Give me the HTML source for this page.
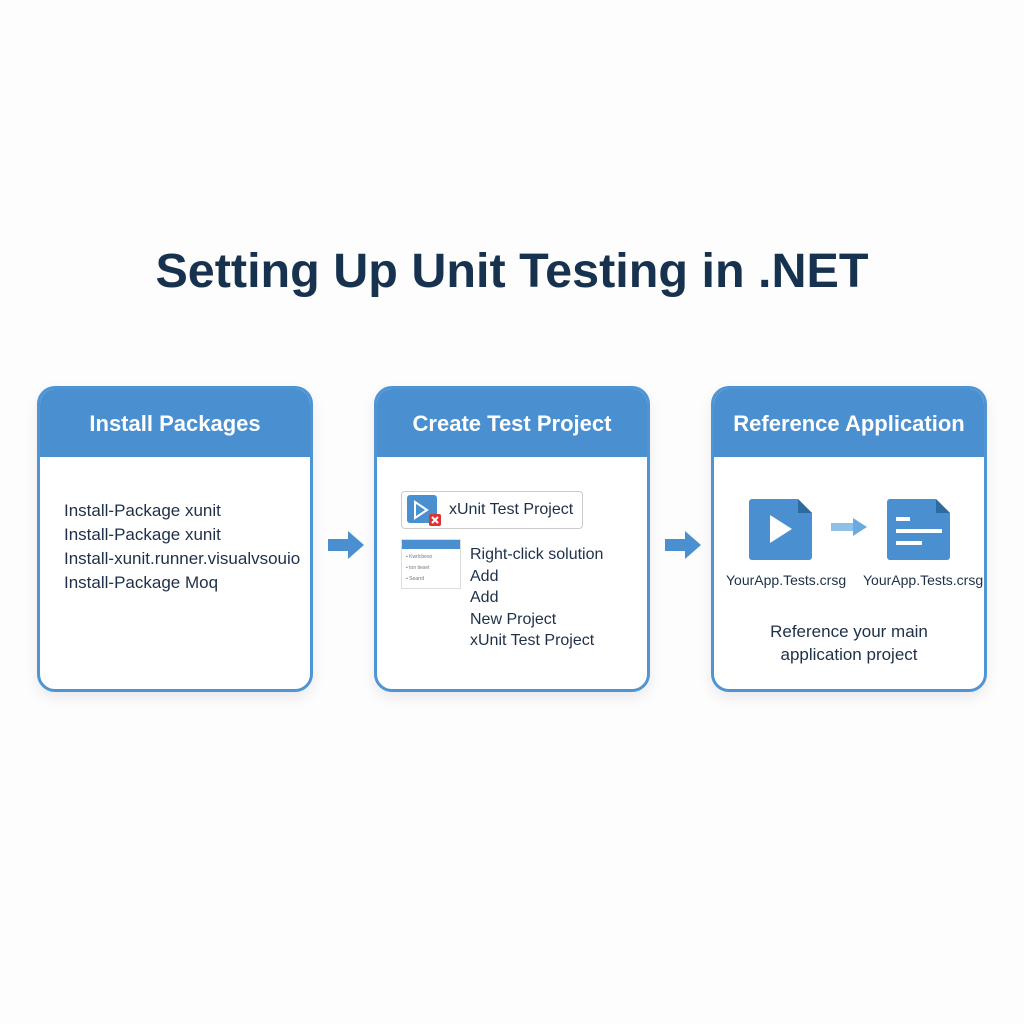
<!DOCTYPE html>
<html><head><style>
body{margin:0;width:1024px;height:1024px;background:#fdfdfd;font-family:"Liberation Sans",sans-serif;position:relative;overflow:hidden}
.t{position:absolute;left:0;width:1024px;top:243px;text-align:center;font-size:48.5px;font-weight:bold;color:#17324f}
.card{position:absolute;top:386px;width:270px;height:300px;border:3px solid #4f95d4;border-radius:18px;background:#fff;overflow:hidden;box-shadow:0 6px 14px rgba(0,0,0,0.08)}
.hd{height:68px;background:#4a90d0;color:#fff;font-weight:bold;font-size:22px;text-align:center;line-height:70px}
.ab{position:absolute;color:#1e3048;font-size:17px;line-height:22px}
.arr{position:absolute;top:530px}
</style></head><body>
<div class="t">Setting Up Unit Testing in .NET</div>

<div class="card" style="left:37px"><div class="hd">Install Packages</div>
<div class="ab" style="left:24px;top:110px;line-height:24px">Install-Package xunit<br>Install-Package xunit<br>Install-xunit.runner.visualvsouio<br>Install-Package Moq</div></div>

<div class="card" style="left:374px"><div class="hd">Create Test Project</div>
<div style="position:absolute;left:24px;top:102px;width:180px;height:36px;border:1px solid #ccc;border-radius:4px"></div>
<div style="position:absolute;left:30px;top:106px;width:30px;height:28px;background:#4a90d0;border-radius:3px"></div>
<svg style="position:absolute;left:36px;top:111px" width="30" height="30"><polygon points="2,2 14,10 2,18" fill="none" stroke="#fff" stroke-width="2"/><rect x="16" y="14" width="12" height="12" rx="2" fill="#d33"/><path d="M19 17l6 6M25 17l-6 6" stroke="#fff" stroke-width="2"/></svg>
<div class="ab" style="left:72px;top:110px;font-size:16px">xUnit Test Project</div>
<div style="position:absolute;left:24px;top:150px;width:58px;height:48px;border:1px solid #ddd;background:#fff"><div style="height:9px;background:#4a90d0"></div>
<div style="font-size:5px;color:#777;padding:3px 4px;line-height:11px">▪ Kwrlcbeso<br>▪ ton tieset<br>▪ Searrd</div></div>
<div class="ab" style="left:93px;top:155px;font-size:16px;line-height:21.5px">Right-click solution<br>Add<br>Add<br>New Project<br>xUnit Test Project</div></div>

<div class="card" style="left:711px"><div class="hd">Reference Application</div>
<svg style="position:absolute;left:34px;top:108px" width="66" height="64"><path d="M4 2h46l14 14v44a3 3 0 0 1-3 3H4a3 3 0 0 1-3-3V5a3 3 0 0 1 3-3z" fill="#4a90d0"/><path d="M50 2v14h14z" fill="#2e6a9e"/><polygon points="22,18 44,32 22,46" fill="#fff"/></svg>
<svg style="position:absolute;left:115px;top:127px" width="44" height="22"><rect x="2" y="7" width="24" height="8" fill="#8fc0e8"/><polygon points="24,2 38,11 24,20" fill="#6aaae0"/></svg>
<svg style="position:absolute;left:172px;top:108px" width="66" height="64"><path d="M4 2h46l14 14v44a3 3 0 0 1-3 3H4a3 3 0 0 1-3-3V5a3 3 0 0 1 3-3z" fill="#4a90d0"/><path d="M50 2v14h14z" fill="#2e6a9e"/><rect x="10" y="20" width="14" height="4" fill="#fff"/><rect x="10" y="32" width="46" height="4" fill="#fff"/><rect x="10" y="44" width="26" height="4" fill="#fff"/></svg>
<div class="ab" style="left:12px;top:180px;font-size:14px">YourApp.Tests.crsg</div>
<div class="ab" style="left:149px;top:180px;font-size:14px">YourApp.Tests.crsg</div>
<div class="ab" style="left:0;width:270px;text-align:center;top:231px;font-size:17px;line-height:23px">Reference your main<br>application project</div></div>

<svg class="arr" style="left:327px" width="40" height="30"><rect x="1" y="9" width="22" height="12" fill="#4a90d0"/><polygon points="21,1 37,15 21,29" fill="#4a90d0"/></svg>
<svg class="arr" style="left:664px" width="40" height="30"><rect x="1" y="9" width="22" height="12" fill="#4a90d0"/><polygon points="21,1 37,15 21,29" fill="#4a90d0"/></svg>
</body></html>
